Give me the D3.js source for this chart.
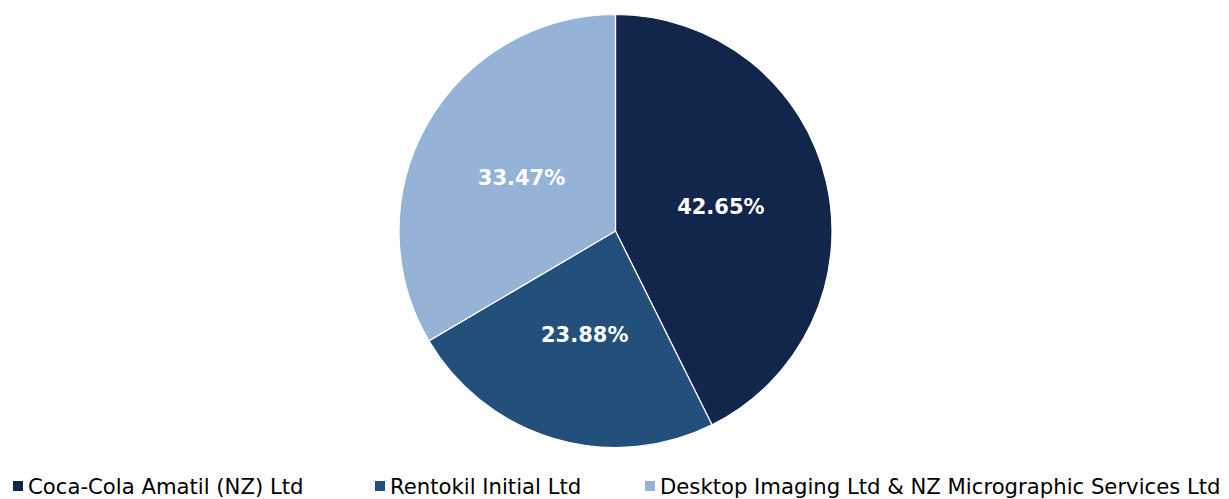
<!DOCTYPE html>
<html>
<head>
<meta charset="utf-8">
<script src="https://cdn.jsdelivr.net/npm/d3@7"></script>
<style>
  body { margin: 0; background: #fff; }
  svg { display: block; }
</style>
</head>
<body>
<div id="chart"></div>
<script>
// chart data
const categories = ["Coca-Cola Amatil (NZ) Ltd", "Rentokil Initial Ltd", "Desktop Imaging Ltd & NZ Micrographic Services Ltd"];
const shares = [42.65, 23.88, 33.47];
const colours = ["#12254a", "#23507a", "#95b3d7"];

const width = 1229, height = 499;
const cx = 615.5, cy = 231, radius = 216.5;

let svg = d3.select("#chart").append("svg")
    .attr("width", width)
    .attr("height", height)

let pie = d3.pie().sort(null).value(d => d.value)
let arc = d3.arc().innerRadius(0).outerRadius(radius)

let rows = categories.map((c, i) => ({name: c, value: shares[i], colour: colours[i]}))

let g = svg.append("g").attr("transform", "translate(" + cx + "," + cy + ")")

g.selectAll("path")
    .data(pie(rows)).enter()
    .append("path")
    .attr("d", arc)
    .attr("fill", d => d.data.colour)
    .attr("stroke", "#fff")
    .attr("stroke-width", 1.2)

g.selectAll("text")
    .data(pie(rows)).enter()
    .append("text")
    .attr("transform", d => "translate(" + arc.centroid(d) + ")")
    .attr("text-anchor", "middle")
    .attr("dy", "0.36em")
    .attr("fill", "#fff")
    .attr("font-family", "'DejaVu Sans', sans-serif")
    .attr("font-weight", "bold")
    .attr("font-size", "21px")
    .text(d => d.data.value.toFixed(2) + "%")

// legend, item positions along the bottom
const legendX = [13, 375, 645];
let legend = svg.append("g").attr("transform", "translate(0,486)")

let items = legend.selectAll("g")
    .data(rows).enter()
    .append("g")
    .attr("transform", (d, i) => "translate(" + legendX[i] + ",0)")

items.append("rect")
    .attr("x", 0).attr("y", -5)
    .attr("width", 10).attr("height", 10)
    .attr("fill", d => d.colour)

items.append("text")
    .attr("x", 15)
    .attr("dy", "0.36em")
    .attr("fill", "#000")
    .attr("font-family", "'DejaVu Sans', sans-serif")
    .attr("font-size", "21.2px")
    .text(d => d.name)
</script>
</body>
</html>
